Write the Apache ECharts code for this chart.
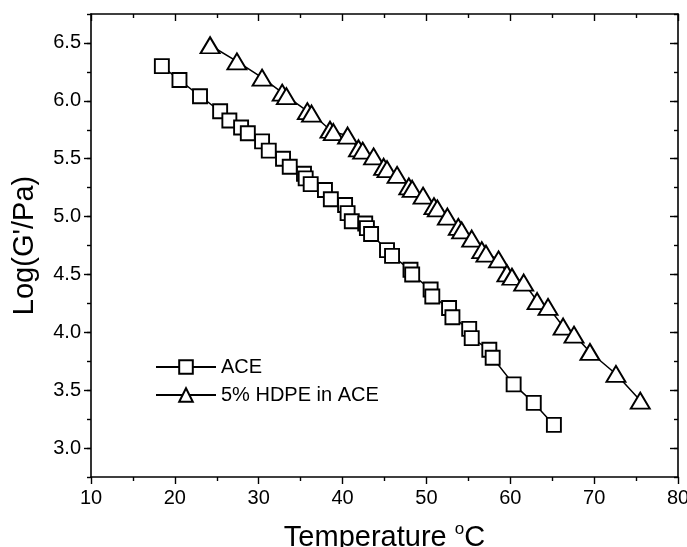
<!DOCTYPE html>
<html>
<head>
<meta charset="utf-8">
<script src="https://cdn.jsdelivr.net/npm/echarts@6/dist/echarts.min.js"></script>
<style>
html,body{margin:0;padding:0;background:#fff;}
#chart{width:687px;height:547px;}
</style>
</head>
<body>
<div id="chart"></div>
<script>
// ---- data ----
const seriesNames = ['ACE', '5% HDPE in ACE'];
const aceX = [18.45, 20.55, 23.0, 25.4, 26.5, 27.9, 28.7, 30.4, 31.2, 32.9, 33.7, 35.4, 35.6, 36.2, 37.9, 38.6, 40.3, 40.6, 41.1, 42.7, 42.9, 43.4, 45.3, 45.9, 48.1, 48.3, 50.5, 50.7, 52.7, 53.1, 55.1, 55.4, 57.5, 57.9, 60.4, 62.8, 65.2];
const aceY = [6.30, 6.18, 6.04, 5.91, 5.83, 5.77, 5.72, 5.65, 5.57, 5.50, 5.43, 5.37, 5.33, 5.28, 5.23, 5.15, 5.10, 5.03, 4.96, 4.94, 4.90, 4.85, 4.71, 4.66, 4.54, 4.50, 4.37, 4.31, 4.21, 4.13, 4.03, 3.95, 3.85, 3.78, 3.55, 3.39, 3.20];
const hdpeX = [24.2, 27.4, 30.4, 32.8, 33.3, 35.8, 36.3, 38.5, 38.9, 40.6, 41.9, 42.4, 43.7, 44.9, 45.3, 46.5, 47.9, 48.3, 49.6, 50.9, 51.3, 52.5, 53.8, 54.2, 55.4, 56.6, 57.1, 58.6, 59.6, 60.2, 61.6, 63.2, 64.5, 66.3, 67.6, 69.5, 72.6, 75.5];
const hdpeY = [6.48, 6.34, 6.20, 6.07, 6.04, 5.91, 5.89, 5.75, 5.73, 5.70, 5.59, 5.57, 5.52, 5.43, 5.41, 5.36, 5.26, 5.24, 5.18, 5.09, 5.07, 5.00, 4.91, 4.88, 4.81, 4.71, 4.68, 4.63, 4.51, 4.48, 4.43, 4.27, 4.22, 4.05, 3.98, 3.83, 3.64, 3.41];
const yTickLabels = [3.0, 3.5, 4.0, 4.5, 5.0, 5.5, 6.0, 6.5];
const xTickLabels = [10, 20, 30, 40, 50, 60, 70, 80];
const xTitle = 'Temperature';
const yTitle = "Log(G'/Pa)";

// ---- chart ----
const FONT = '"Liberation Sans", Arial, sans-serif';
const X_MIN = 10, X_MAX = 80, Y_MIN = 2.75, Y_MAX = 6.75;
const chart = echarts.init(document.getElementById('chart'), null, {renderer: 'canvas'});

function yAx(pos, inside, len, isMajor, showLine, withLabel, withName) {
  const a = {
    type: 'value', position: pos, min: Y_MIN, max: Y_MAX, interval: 0.25,
    axisLine: {show: showLine, onZero: false, lineStyle: {color: '#000', width: 1.6}},
    axisTick: {show: true, inside: inside, length: len, lineStyle: {color: '#000', width: 1.4}},
    axisLabel: {show: false},
    splitLine: {show: false}
  };
  if (isMajor) a.axisTick.customValues = yTickLabels;
  if (withLabel) {
    a.axisLabel = {show: true, customValues: yTickLabels, margin: 10, color: '#000',
      fontFamily: FONT, fontSize: 20, formatter: v => Number(v).toFixed(1)};
  }
  if (withName) {
    a.name = yTitle; a.nameLocation = 'middle'; a.nameGap = 52;
    a.nameTextStyle = {fontFamily: FONT, fontSize: 29, color: '#000'};
  }
  return a;
}

const option = {
  backgroundColor: '#fff',
  animation: false,
  grid: {left: 91, right: 9, top: 14, bottom: 70, containLabel: false, outerBoundsMode: 'none'},
  legend: {
    data: seriesNames, orient: 'vertical', left: 150, top: 352,
    itemWidth: 60, itemHeight: 17, itemGap: 8,
    textStyle: {fontFamily: FONT, fontSize: 20, color: '#000'}
  },
  xAxis: [
    {
      type: 'value', position: 'bottom', min: X_MIN, max: X_MAX, interval: 10,
      axisLine: {onZero: false, lineStyle: {color: '#000', width: 1.6}},
      axisTick: {inside: false, length: 7, lineStyle: {color: '#000', width: 1.4}},
      minorTick: {show: true, splitNumber: 2, length: 4, lineStyle: {color: '#000', width: 1.4}},
      axisLabel: {margin: 11, color: '#000', fontFamily: FONT, fontSize: 20,
        formatter: v => xTickLabels.indexOf(v) >= 0 ? String(v) : ''},
      splitLine: {show: false},
      name: xTitle + ' {sup|o}C', nameLocation: 'middle', nameGap: 44,
      nameTextStyle: {fontFamily: FONT, fontSize: 29, color: '#000',
        rich: {sup: {fontFamily: FONT, fontSize: 17, color: '#000', verticalAlign: 'top', lineHeight: 34}}}
    },
    {
      type: 'value', position: 'top', min: X_MIN, max: X_MAX, interval: 10,
      axisLine: {onZero: false, lineStyle: {color: '#000', width: 1.6}},
      axisTick: {inside: true, length: 7, lineStyle: {color: '#000', width: 1.4}},
      minorTick: {show: true, splitNumber: 2, length: 4, lineStyle: {color: '#000', width: 1.4}},
      axisLabel: {show: false},
      splitLine: {show: false}
    }
  ],
  yAxis: [
    yAx('left', false, 7, true, true, true, true),
    yAx('left', false, 4, false, false, false, false),
    yAx('right', true, 8, true, true, false, false),
    yAx('right', true, 4, false, false, false, false)
  ],
  series: [
    {
      name: seriesNames[0], type: 'line', xAxisIndex: 0, yAxisIndex: 0,
      data: aceX.map((x, i) => [x, aceY[i]]),
      symbol: 'rect', symbolSize: 14, showSymbol: true, showAllSymbol: true,
      lineStyle: {color: '#000', width: 1.5},
      itemStyle: {color: '#fff', borderColor: '#000', borderWidth: 1.9},
      emphasis: {disabled: true}
    },
    {
      name: seriesNames[1], type: 'line', xAxisIndex: 0, yAxisIndex: 0,
      data: hdpeX.map((x, i) => [x, hdpeY[i]]),
      symbol: 'triangle', symbolSize: [19, 16], showSymbol: true, showAllSymbol: true,
      lineStyle: {color: '#000', width: 1.5},
      itemStyle: {color: '#fff', borderColor: '#000', borderWidth: 1.9},
      emphasis: {disabled: true}
    }
  ]
};
chart.setOption(option);
</script>
</body>
</html>
